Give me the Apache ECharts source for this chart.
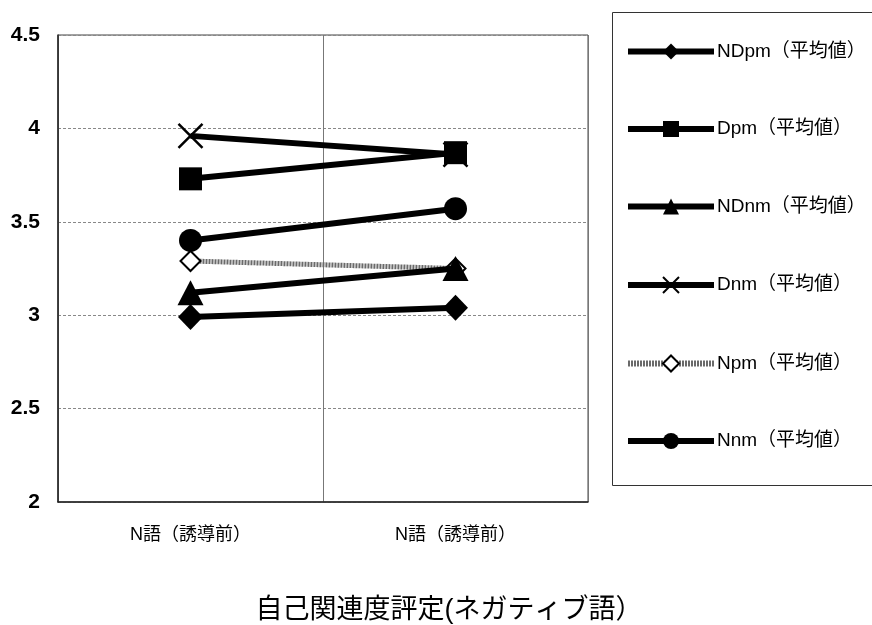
<!DOCTYPE html>
<html>
<head>
<meta charset="utf-8">
<script src="https://cdn.jsdelivr.net/npm/echarts@6/dist/echarts.min.js"></script>
<style>
  html, body { margin: 0; padding: 0; background: #fff; }
  #chart { width: 872px; height: 625px; }
</style>
</head>
<body>
<div id="chart"></div>
<script>
// Self-relevance ratings (negative words): mean per condition
const categories = ['N語（誘導前）', 'N語（誘導前）'];
const seriesNames = ['NDpm（平均値）', 'Dpm（平均値）', 'NDnm（平均値）', 'Dnm（平均値）', 'Npm（平均値）', 'Nnm（平均値）'];
const NDpm = [2.99, 3.04];
const Dpm  = [3.73, 3.87];
const NDnm = [3.12, 3.25];
const Dnm  = [3.96, 3.86];
const Npm  = [3.29, 3.25];
const Nnm  = [3.40, 3.57];
const yTicks = { min: 2, max: 4.5, step: 0.5 };
const titleText = '自己関連度評定(ネガティブ語）';

const FONT = '"Liberation Sans", "Noto Sans CJK JP", sans-serif';
const CROSS = 'path://M0,0L10,10M10,0L0,10';

function lineSeries(name, data, opts) {
  return Object.assign({
    name: name,
    type: 'line',
    data: data,
    symbol: 'circle',
    symbolSize: 23,
    lineStyle: { color: '#000', width: 6 },
    itemStyle: { color: '#000' },
    emphasis: { disabled: true },
    z: 3
  }, opts);
}

const chart = echarts.init(document.getElementById('chart'));
chart.setOption({
  animation: false,
  backgroundColor: '#fff',
  textStyle: { fontFamily: FONT, color: '#000' },
  title: {
    text: titleText,
    left: 444,
    textAlign: 'center',
    top: 592,
    textStyle: { fontFamily: FONT, fontSize: 27, fontWeight: 'normal', color: '#000' }
  },
  graphic: [{
    type: 'rect',
    shape: { x: 612.5, y: 12.5, width: 280, height: 473 },
    style: { fill: 'none', stroke: '#333', lineWidth: 1 },
    silent: true
  }],
  legend: {
    orient: 'vertical',
    left: 625,
    top: 42,
    padding: 0,
    itemWidth: 86,
    itemHeight: 20,
    itemGap: 58.5,
    lineStyle: { width: 6 },
    textStyle: { fontFamily: FONT, fontSize: 19, lineHeight: 18, color: '#000', padding: [0, 0, 0, -2] },
    data: seriesNames
  },
  grid: {
    left: 58, right: 284, top: 35, bottom: 123,
    show: true, borderColor: '#444', borderWidth: 1
  },
  xAxis: {
    type: 'category',
    data: categories,
    boundaryGap: true,
    axisLine: { lineStyle: { color: '#222', width: 1.5 } },
    axisTick: { show: false },
    axisLabel: { fontFamily: FONT, fontSize: 18, color: '#000', margin: 24 },
    splitLine: { show: true, lineStyle: { color: '#777', width: 1 } }
  },
  yAxis: {
    type: 'value',
    min: yTicks.min, max: yTicks.max, interval: yTicks.step,
    axisLine: { show: true, lineStyle: { color: '#222', width: 1.5 } },
    axisTick: { show: false },
    axisLabel: { fontFamily: FONT, fontSize: 21, fontWeight: 'bold', color: '#000', margin: 18 },
    splitLine: { show: true, lineStyle: { color: '#888', width: 1, type: [3, 2] } }
  },
  series: [
    lineSeries(seriesNames[0], NDpm, { symbol: 'diamond', symbolSize: [25, 26] }),
    lineSeries(seriesNames[1], Dpm,  { symbol: 'rect', symbolSize: 23, z: 4 }),
    lineSeries(seriesNames[2], NDnm, { symbol: 'triangle', symbolSize: [26, 25], z: 4 }),
    lineSeries(seriesNames[3], Dnm,  {
      symbol: CROSS, symbolSize: 24, z: 2,
      itemStyle: { color: 'none', borderColor: '#000', borderWidth: 2.5 }
    }),
    lineSeries(seriesNames[4], Npm,  {
      symbol: 'diamond', symbolSize: 20, z: 2,
      lineStyle: { color: '#6a6a6a', width: 5, type: [2, 1] },
      itemStyle: { color: '#fff', borderColor: '#000', borderWidth: 2 }
    }),
    lineSeries(seriesNames[5], Nnm,  { symbol: 'circle', symbolSize: 23 })
  ]
});
</script>
</body>
</html>
